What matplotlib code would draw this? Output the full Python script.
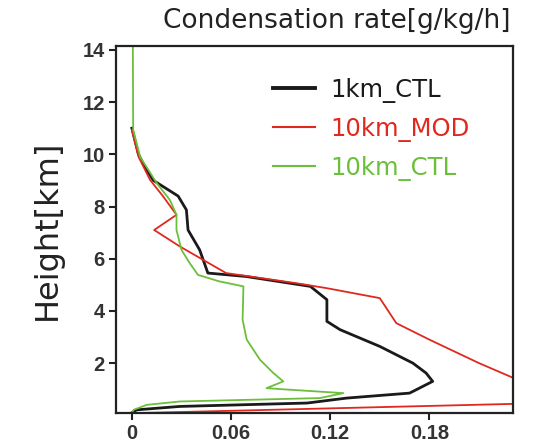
import matplotlib
matplotlib.use("Agg")
import matplotlib.pyplot as plt

# 1km_CTL (black)
ctl1_x = [0.0, 0.002, 0.004, 0.008, 0.013, 0.028, 0.033, 0.034, 0.041, 0.046, 0.069, 0.108, 0.118,
          0.118, 0.126, 0.150, 0.170, 0.178, 0.182, 0.168, 0.130, 0.106, 0.029, 0.003, 0.0]
ctl1_y = [11.0, 10.5, 10.0, 9.5, 9.0, 8.4, 7.87, 7.1, 6.34, 5.45, 5.32, 4.94, 4.43,
          3.6, 3.28, 2.64, 2.0, 1.62, 1.3, 0.85, 0.66, 0.47, 0.34, 0.21, 0.1]

# 10km_MOD (red)
mod10_x = [0.0, 0.004, 0.011, 0.019, 0.027, 0.0135, 0.029, 0.043, 0.057, 0.0997, 0.118, 0.150,
           0.160, 0.180, 0.210, 0.232, 0.232, 0.0]
mod10_y = [10.94, 9.91, 9.02, 8.38, 7.68, 7.1, 6.47, 5.96, 5.45, 5.06, 4.87, 4.49,
           3.53, 2.9, 2.0, 1.4, 0.44, 0.08]

# 10km_CTL (green)
ctl10_x = [0.0006, 0.0008, 0.005, 0.015, 0.023, 0.027, 0.027, 0.030, 0.035, 0.040, 0.053, 0.0675, 0.067,
           0.0695, 0.0775, 0.0856, 0.0916, 0.0815, 0.0956, 0.128, 0.1137, 0.029, 0.009, 0.001, 0.0]
ctl10_y = [14.15, 10.94, 9.9, 8.9, 8.25, 7.68, 7.1, 6.34, 5.83, 5.38, 5.13, 4.94, 3.66,
           2.9, 2.13, 1.62, 1.3, 1.04, 0.98, 0.85, 0.66, 0.53, 0.4, 0.21, 0.08]

labels = ["1km_CTL", "10km_MOD", "10km_CTL"]
colors = ["#1a1a1a", "#e0281e", "#6cbf3a"]

xticks = [0, 0.06, 0.12, 0.18]
xticklabels = ["0", "0.06", "0.12", "0.18"]
yticks = [2, 4, 6, 8, 10, 12, 14]

fig = plt.figure(figsize=(5.4, 4.43), dpi=100)
ax = fig.add_axes([0.2148, 0.0684, 0.7346, 0.8278])

l1, = ax.plot(ctl1_x, ctl1_y, color=colors[0], lw=2.0, label=labels[0])
l2, = ax.plot(mod10_x, mod10_y, color=colors[1], lw=1.3, label=labels[1])
l3, = ax.plot(ctl10_x, ctl10_y, color=colors[2], lw=1.3, label=labels[2])

ax.set_xlim(-0.0096, 0.2304)
ax.set_ylim(0.1, 14.15)
ax.set_xticks(xticks)
ax.set_xticklabels(xticklabels)
ax.set_yticks(yticks)
for s in ax.spines.values():
    s.set_linewidth(1.6)
    s.set_color("#222222")
ax.tick_params(direction="out", length=5, width=1.5, colors="#222222", labelsize=14.5, pad=3)
for t in ax.get_xticklabels() + ax.get_yticklabels():
    t.set_family("Liberation Sans")
    t.set_fontweight("bold")
    t.set_color("#333333")

ax.set_ylabel("Height[km]", fontsize=23, labelpad=14, color="#222222")

leg = ax.legend(handles=[l1, l2, l3], loc="upper left", bbox_to_anchor=(0.372, 0.94),
                frameon=False, fontsize=17.5, handlelength=1.7, handletextpad=0.65,
                labelspacing=0.58, borderaxespad=0)
for txt, c in zip(leg.get_texts(), colors):
    txt.set_color(c)
leg.get_lines()[0].set_linewidth(2.8)
leg.get_lines()[1].set_linewidth(1.5)
leg.get_lines()[2].set_linewidth(1.5)

fig.text(0.624, 0.953, "Condensation rate[g/kg/h]", ha="center", va="center",
         fontsize=19, color="#222222")

fig.savefig("out.png", dpi=100, facecolor="white")
